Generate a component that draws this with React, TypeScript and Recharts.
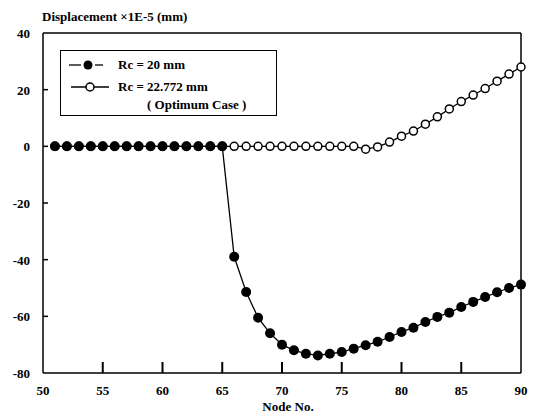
import { LineChart, Line, XAxis, YAxis, ReferenceLine } from "recharts";

// node numbers along the beam
const nodes = [
  51, 52, 53, 54, 55, 56, 57, 58, 59, 60, 61, 62, 63, 64, 65, 66, 67, 68, 69, 70,
  71, 72, 73, 74, 75, 76, 77, 78, 79, 80, 81, 82, 83, 84, 85, 86, 87, 88, 89, 90,
];

// displacement x 1E-5 mm, Rc = 20 mm
const rc20 = [
  0, 0, 0, 0, 0, 0, 0, 0, 0, 0, 0, 0, 0, 0, 0,
  -39, -51.4, -60.5, -66, -70, -72, -73.2, -73.8, -73.2, -72.6,
  -71.4, -70.2, -69, -67.3, -65.5, -64, -62, -60.2, -58.7, -56.7,
  -54.9, -53.2, -51.5, -50, -48.8,
];

// displacement x 1E-5 mm, Rc = 22.772 mm (optimum)
const rcOpt = [
  0, 0, 0, 0, 0, 0, 0, 0, 0, 0, 0, 0, 0, 0, 0,
  0, 0, 0, 0, 0, 0, 0, 0, 0, 0,
  0, -1, -0.2, 1.5, 3.6, 5.4, 7.8, 10.4, 13.2, 15.8,
  18.1, 20.4, 23, 25.5, 28,
];

const xTicks = [50, 55, 60, 65, 70, 75, 80, 85, 90];
const yTicks = [-80, -60, -40, -20, 0, 20, 40];

const data = nodes.map((n, i) => ({ node: n, rc20: rc20[i], opt: rcOpt[i] }));

const font = '"Liberation Serif", "Times New Roman", serif';

// ticks point into the plot, like the original figure
function XTick(props: any) {
  const { x, y, payload } = props;
  const v = payload.value;
  const inner = v > 50 && v < 90;
  return (
    <g>
      {inner ? <rect x={x - 1} y={y - 11} width={2} height={11} fill="#000" /> : null}
      <text x={x} y={y + 22} textAnchor="middle" fontFamily={font} fontWeight={700} fontSize={13} fill="#000">
        {v}
      </text>
    </g>
  );
}

function YTick(props: any) {
  const { x, y, payload } = props;
  const v = payload.value;
  const inner = v > -80 && v < 40;
  return (
    <g>
      {inner ? <rect x={x} y={y - 0.75} width={5} height={1.5} fill="#000" /> : null}
      <text x={x - 13} y={y + 5} textAnchor="end" fontFamily={font} fontWeight={700} fontSize={13} fill="#000">
        {v}
      </text>
    </g>
  );
}

function LegendBox() {
  const text = { position: "absolute" as const, whiteSpace: "nowrap" as const };
  return (
    <div
      style={{
        position: "absolute",
        left: 60,
        top: 50,
        width: 217,
        height: 66,
        boxSizing: "border-box",
        border: "1.5px solid #000",
        background: "#fff",
        fontFamily: font,
        fontWeight: 700,
        fontSize: 13,
        color: "#000",
      }}
    >
      <svg width={50} height={40} style={{ position: "absolute", left: 6, top: 6 }}>
        <line x1={2} y1={8} x2={14} y2={8} stroke="#000" strokeWidth={1.3} />
        <line x1={28} y1={8} x2={36} y2={8} stroke="#000" strokeWidth={1.3} />
        <circle cx={21} cy={8} r={4.5} fill="#000" />
        <line x1={4} y1={30} x2={42} y2={30} stroke="#000" strokeWidth={1.3} />
        <circle cx={23} cy={30} r={4} fill="#fff" stroke="#000" strokeWidth={1.5} />
      </svg>
      <span style={{ ...text, left: 57, top: 6 }}>Rc = 20 mm</span>
      <span style={{ ...text, left: 57, top: 28 }}>Rc = 22.772 mm</span>
      <span style={{ ...text, left: 86, top: 46 }}>( Optimum Case )</span>
    </div>
  );
}

export default function App() {
  return (
    <div style={{ position: "absolute", left: 0, top: 0, width: 540, height: 420, background: "#fff" }}>
      <div
        style={{
          position: "absolute",
          left: 42,
          top: 9,
          fontFamily: font,
          fontWeight: 700,
          fontSize: 13,
          whiteSpace: "nowrap",
        }}
      >
        Displacement ×1E-5 (mm)
      </div>
      <LineChart width={540} height={420} data={data} margin={{ top: 33, right: 19, bottom: 17, left: 0 }}>
        <XAxis
          dataKey="node"
          type="number"
          domain={[50, 90]}
          ticks={xTicks}
          tick={<XTick />}
          height={30}
          tickSize={0}
          tickMargin={0}
          tickLine={false}
          axisLine={{ stroke: "#000", strokeWidth: 1.5 }}
          interval={0}
        />
        <YAxis
          type="number"
          domain={[-80, 40]}
          ticks={yTicks}
          tick={<YTick />}
          width={43}
          tickSize={0}
          tickMargin={0}
          tickLine={false}
          axisLine={{ stroke: "#000", strokeWidth: 1.5 }}
          interval={0}
        />
        <ReferenceLine y={40} stroke="#000" strokeWidth={1.3} />
        <ReferenceLine x={90} stroke="#000" strokeWidth={1.5} />
        <Line
          dataKey="opt"
          stroke="#000"
          strokeWidth={1.3}
          isAnimationActive={false}
          dot={{ r: 4, fill: "#fff", stroke: "#000", strokeWidth: 1.5 }}
        />
        <Line
          dataKey="rc20"
          stroke="#000"
          strokeWidth={1.3}
          isAnimationActive={false}
          dot={{ r: 5, fill: "#000", stroke: "#000", strokeWidth: 0 }}
        />
      </LineChart>
      <LegendBox />
      <div
        style={{
          position: "absolute",
          left: 0,
          width: 576,
          top: 399,
          textAlign: "center",
          fontFamily: font,
          fontWeight: 700,
          fontSize: 13,
        }}
      >
        Node No.
      </div>
    </div>
  );
}
